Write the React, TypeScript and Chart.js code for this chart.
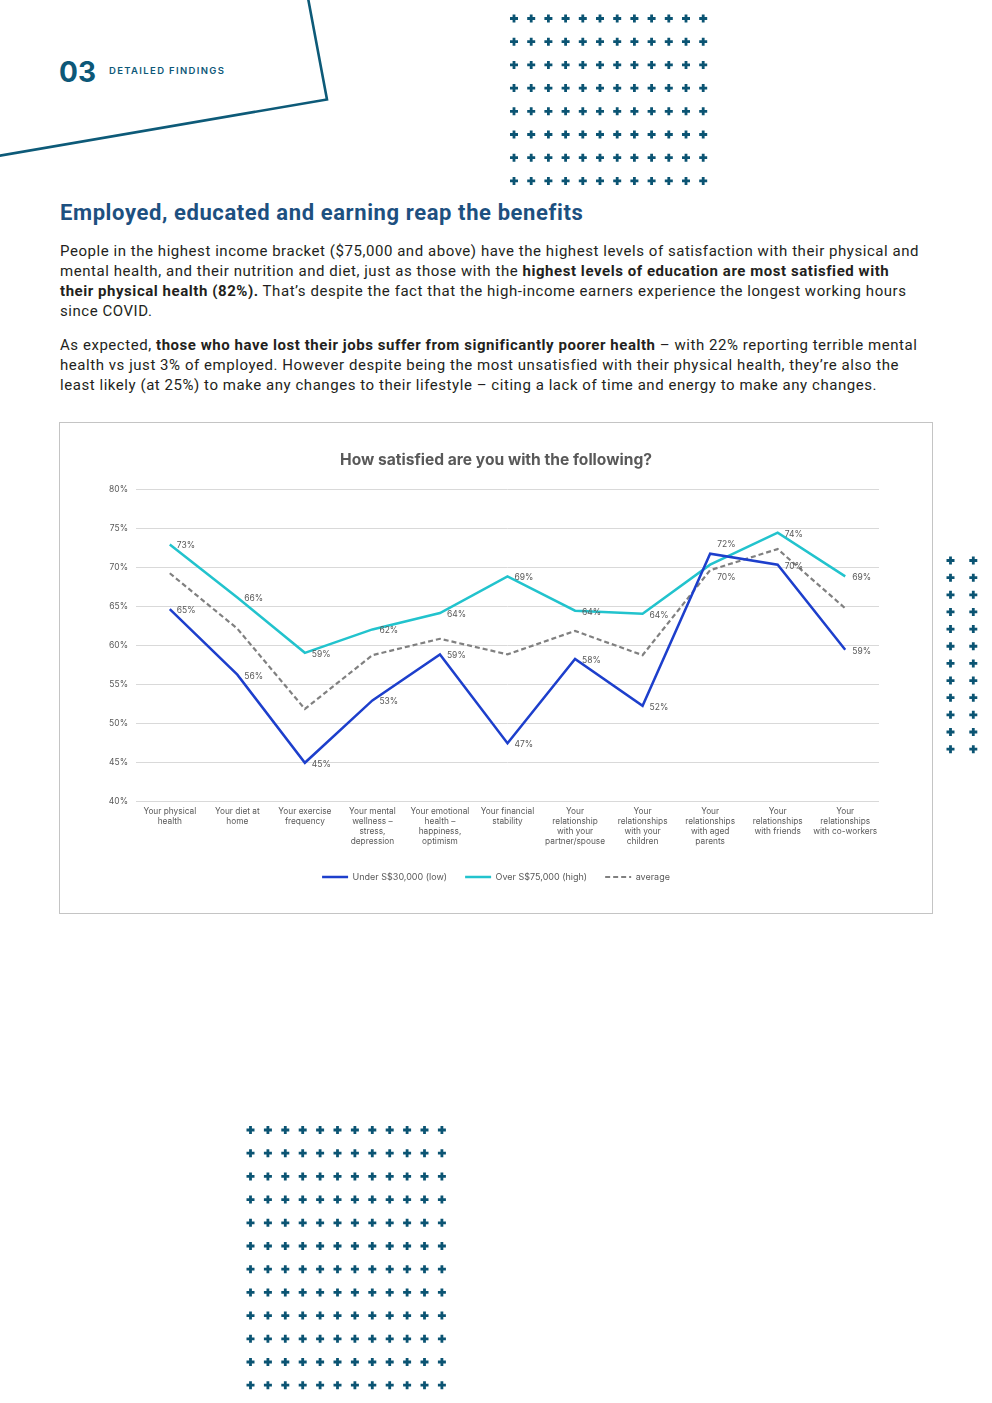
import React, { useEffect, useRef } from "react";
import { Chart, registerables } from "chart.js";

Chart.register(...registerables);

// ---------- data ----------
const categories: string[][] = [
  ["Your physical", "health"],
  ["Your diet at", "home"],
  ["Your exercise", "frequency"],
  ["Your mental", "wellness –", "stress,", "depression"],
  ["Your emotional", "health –", "happiness,", "optimism"],
  ["Your financial", "stability"],
  ["Your", "relationship", "with your", "partner/spouse"],
  ["Your", "relationships", "with your", "children"],
  ["Your", "relationships", "with aged", "parents"],
  ["Your", "relationships", "with friends"],
  ["Your", "relationships", "with co-workers"],
];
const lowIncome = [64.6, 56.2, 44.9, 52.9, 58.8, 47.4, 58.2, 52.2, 71.7, 70.3, 59.4];
const highIncome = [72.9, 66.1, 59.0, 62.0, 64.1, 68.8, 64.4, 64.0, 70.3, 74.4, 68.8];
const average = [69.2, 62.1, 51.8, 58.7, 60.8, 58.8, 61.8, 58.7, 69.6, 72.3, 64.7];
const seriesNames = ["Under S$30,000 (low)", "Over S$75,000 (high)", "average"];
const yTicks = { min: 40, max: 80, step: 5 };
const chartTitle = "How satisfied are you with the following?";

// label placement overrides (dataset -> index -> placement)
const labelPlacement: Record<number, Record<number, string>> = {
  0: { 8: "above" },
  1: { 8: "below" },
};

const CHART_FONT = "Inter, 'Noto Sans', sans-serif";
const TEXT_GRAY = "#595959";
const NAVY = "#0b5473";

const dataLabelPlugin = {
  id: "dataLabels",
  afterDatasetsDraw(chart: any) {
    const ctx = chart.ctx;
    ctx.save();
    ctx.font = `8.5px ${CHART_FONT}`;
    ctx.fillStyle = TEXT_GRAY;
    ctx.textAlign = "left";
    ctx.textBaseline = "middle";
    [0, 1].forEach((di) => {
      const meta = chart.getDatasetMeta(di);
      const data = chart.data.datasets[di].data as number[];
      meta.data.forEach((pt: any, i: number) => {
        const place = (labelPlacement[di] || {})[i] || "right";
        let x = pt.x + 7;
        let y = pt.y + 1.5;
        if (place === "above") y = pt.y - 9;
        if (place === "below") y = pt.y + 13;
        ctx.fillText(Math.round(data[i]) + "%", x, y);
      });
    });
    ctx.restore();
  },
};

function LineChart() {
  const ref = useRef<HTMLCanvasElement | null>(null);
  useEffect(() => {
    if (!ref.current) return;
    const defaultGen = (Chart as any).defaults.plugins.legend.labels.generateLabels;
    const chart = new Chart(ref.current, {
      type: "line",
      data: {
        labels: categories,
        datasets: [
          {
            label: seriesNames[0],
            data: lowIncome,
            borderColor: "#1d3fcc",
            backgroundColor: "#1d3fcc",
            borderWidth: 2.5,
            pointRadius: 0,
            pointStyle: "line",
            tension: 0,
            yAxisID: "y",
          },
          {
            label: seriesNames[1],
            data: highIncome,
            borderColor: "#22c3cd",
            backgroundColor: "#22c3cd",
            borderWidth: 2.5,
            pointRadius: 0,
            pointStyle: "line",
            tension: 0,
            yAxisID: "y",
          },
          {
            label: seriesNames[2],
            data: average,
            borderColor: "#808080",
            backgroundColor: "#808080",
            borderWidth: 2.2,
            borderDash: [5, 3],
            pointRadius: 0,
            pointStyle: "line",
            tension: 0,
            yAxisID: "y",
          },
        ],
      },
      options: {
        responsive: false,
        animation: false,
        devicePixelRatio: 1,
        layout: { padding: { left: 0, right: 0, top: 0, bottom: 21.5 } },
        plugins: {
          title: {
            display: true,
            text: chartTitle,
            color: TEXT_GRAY,
            font: { family: CHART_FONT, size: 15.6, weight: "bold", lineHeight: 1.2 },
            padding: { top: 28, bottom: 19.3 },
          },
          legend: {
            display: true,
            position: "bottom",
            labels: {
              color: TEXT_GRAY,
              font: { family: CHART_FONT, size: 9 },
              usePointStyle: true,
              pointStyleWidth: 26,
              padding: 18,
              generateLabels: (c: any) => {
                const items = defaultGen(c);
                return items.map((it: any) => {
                  const ds = c.data.datasets[it.datasetIndex];
                  return {
                    ...it,
                    lineDash: ds.borderDash || [],
                    lineWidth: ds.borderWidth,
                    strokeStyle: ds.borderColor,
                    fillStyle: ds.borderColor,
                  };
                });
              },
            },
          },
          tooltip: { enabled: false },
        },
        scales: {
          x: {
            offset: true,
            grid: { display: false, drawTicks: false },
            border: { display: false },
            ticks: {
              color: TEXT_GRAY,
              font: { family: CHART_FONT, size: 8.3, lineHeight: 1.18 },
              padding: 6,
              maxRotation: 0,
              minRotation: 0,
              autoSkip: false,
            },
            afterFit: (axis: any) => {
              axis.height = 53.5;
            },
          },
          y: {
            min: yTicks.min,
            max: yTicks.max,
            grid: { color: "#d9d9d9", lineWidth: 1, drawTicks: false },
            border: { display: false },
            ticks: {
              stepSize: yTicks.step,
              color: TEXT_GRAY,
              font: { family: CHART_FONT, size: 8.5 },
              padding: 8,
              callback: (v: any) => v + "%",
            },
            afterFit: (axis: any) => {
              axis.width = 76;
            },
          },
          yRight: {
            position: "right",
            display: true,
            min: yTicks.min,
            max: yTicks.max,
            grid: { display: false, drawTicks: false },
            border: { display: false },
            ticks: { display: false },
            afterFit: (axis: any) => {
              axis.width = 53;
            },
          },
        },
      } as any,
      plugins: [dataLabelPlugin],
    });
    return () => chart.destroy();
  }, []);
  return <canvas ref={ref} width={872} height={490} style={{ display: "block", width: 872, height: 490 }} />;
}

function PlusGrid({ x0, y0, cols, rows, dx, dy }: { x0: number; y0: number; cols: number; rows: number; dx: number; dy: number }) {
  const items: React.ReactNode[] = [];
  for (let r = 0; r < rows; r++) {
    for (let c = 0; c < cols; c++) {
      const cx = x0 + c * dx;
      const cy = y0 + r * dy;
      items.push(
        <path
          key={`${r}-${c}`}
          d={`M${cx - 1.4} ${cy - 4}h2.8v2.6h2.6v2.8h-2.6v2.6h-2.8v-2.6h-2.6v-2.8h2.6z`}
          fill={NAVY}
        />
      );
    }
  }
  return <>{items}</>;
}

export default function App() {
  const bodyFont = "Roboto, 'Noto Sans', sans-serif";
  const lineStyle: React.CSSProperties = { whiteSpace: "nowrap", height: 20 };
  const paraStyle: React.CSSProperties = {
    position: "absolute",
    left: 60,
    fontSize: 15,
    lineHeight: "20px",
    letterSpacing: 0.55,
    color: "#231f20",
  };
  return (
    <div
      style={{
        position: "absolute",
        left: 0,
        top: 0,
        width: 992,
        height: 1403,
        overflow: "hidden",
        background: "#fff",
        fontFamily: bodyFont,
      }}
    >
      <svg width={992} height={1403} style={{ position: "absolute", left: 0, top: 0 }}>
        <polyline points="308,-2 327,99.5 -2,156" fill="none" stroke="#0d5a78" strokeWidth={2.6} />
        <PlusGrid x0={514} y0={18.5} cols={12} rows={8} dx={17.2} dy={23.2} />
        <PlusGrid x0={950.5} y0={560.5} cols={2} rows={12} dx={22.8} dy={17.15} />
        <PlusGrid x0={250.5} y0={1130} cols={12} rows={12} dx={17.4} dy={23.2} />
      </svg>

      <div
        style={{
          position: "absolute",
          left: 59,
          top: 56,
          fontFamily: "Inter, sans-serif",
          fontWeight: 700,
          fontSize: 28,
          lineHeight: "32px",
          color: "#0d5878",
          letterSpacing: 0,
        }}
      >
        03
      </div>
      <div
        style={{
          position: "absolute",
          left: 109,
          top: 65,
          fontFamily: "Inter, sans-serif",
          fontWeight: 600,
          fontSize: 9.5,
          lineHeight: "12px",
          color: "#0d5878",
          letterSpacing: 1.35,
        }}
      >
        DETAILED FINDINGS
      </div>

      <div
        style={{
          position: "absolute",
          left: 60,
          top: 200,
          fontWeight: 700,
          fontSize: 22,
          lineHeight: "25px",
          color: "#1d5080",
          whiteSpace: "nowrap",
          letterSpacing: 0.6,
        }}
      >
        Employed, educated and earning reap the benefits
      </div>

      <div style={{ ...paraStyle, top: 241 }}>
        <div style={lineStyle}>
          People in the highest income bracket ($75,000 and above) have the highest levels of satisfaction with their physical and
        </div>
        <div style={lineStyle}>
          mental health, and their nutrition and diet, just as those with the{" "}
          <b>highest levels of education are most satisfied with</b>
        </div>
        <div style={lineStyle}>
          <b>their physical health (82%).</b> That’s despite the fact that the high-income earners experience the longest working hours
        </div>
        <div style={lineStyle}>since COVID.</div>
      </div>

      <div style={{ ...paraStyle, top: 335 }}>
        <div style={lineStyle}>
          As expected, <b>those who have lost their jobs suffer from significantly poorer health</b> – with 22% reporting terrible mental
        </div>
        <div style={lineStyle}>
          health vs just 3% of employed. However despite being the most unsatisfied with their physical health, they’re also the
        </div>
        <div style={lineStyle}>
          least likely (at 25%) to make any changes to their lifestyle – citing a lack of time and energy to make any changes.
        </div>
      </div>

      <div
        style={{
          position: "absolute",
          left: 59,
          top: 422,
          width: 872,
          height: 490,
          border: "1px solid #c4c4c4",
          background: "#fff",
        }}
      >
        <LineChart />
      </div>
    </div>
  );
}
